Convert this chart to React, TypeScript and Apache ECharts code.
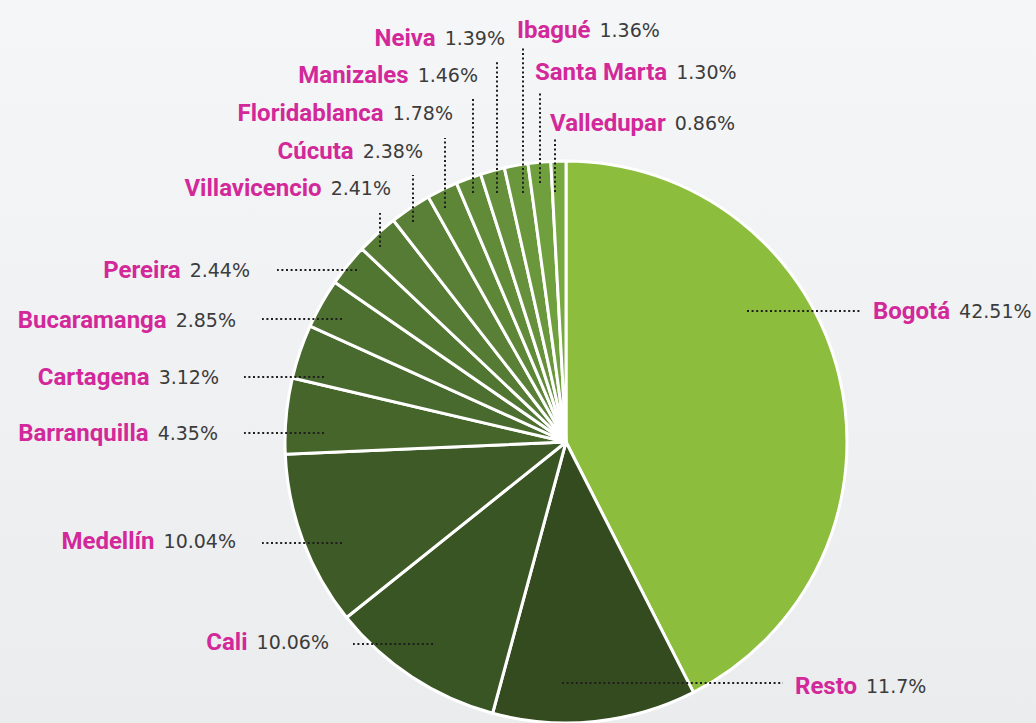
import React, { useEffect, useRef } from "react";
import * as echarts from "echarts";

const cities = [
  "Bogotá", "Resto", "Cali", "Medellín", "Barranquilla", "Cartagena",
  "Bucaramanga", "Pereira", "Villavicencio", "Cúcuta", "Floridablanca",
  "Manizales", "Neiva", "Ibagué", "Santa Marta", "Valledupar",
];
const shares = [42.51, 11.7, 10.06, 10.04, 4.35, 3.12, 2.85, 2.44, 2.41, 2.38, 1.78, 1.46, 1.39, 1.36, 1.3, 0.86];
const shareLabels = ["42.51%", "11.7%", "10.06%", "10.04%", "4.35%", "3.12%", "2.85%", "2.44%", "2.41%", "2.38%", "1.78%", "1.46%", "1.39%", "1.36%", "1.30%", "0.86%"];

const sliceColors = [
  "#8dbd3d", "#344b1f", "#3a5524", "#3e5a27", "#45652b", "#496a2e",
  "#4d7030", "#517632", "#557b34", "#598036", "#5d8637", "#618b39",
  "#66903b", "#6a963c", "#70a03e", "#77a940",
];

// label anchor and leader line points
type Lay = { x: number; y: number; align: string; pts: number[][] };
const labelLayouts: Lay[] = [
  { x: 873, y: 311, align: "left", pts: [[747, 311], [800, 311], [862, 311]] },
  { x: 795, y: 686, align: "left", pts: [[562, 683], [700, 683], [783, 683]] },
  { x: 329, y: 642, align: "right", pts: [[433, 644], [400, 644], [353, 644]] },
  { x: 236, y: 541, align: "right", pts: [[342, 543], [300, 543], [262, 543]] },
  { x: 218, y: 433, align: "right", pts: [[324, 433], [280, 433], [244, 433]] },
  { x: 219, y: 377, align: "right", pts: [[324, 377], [280, 377], [244, 377]] },
  { x: 236, y: 320, align: "right", pts: [[342, 319], [300, 319], [262, 319]] },
  { x: 250, y: 270, align: "right", pts: [[357, 270], [310, 270], [277, 270]] },
  { x: 391, y: 188, align: "right", pts: [[380, 247], [380, 230], [380, 213]] },
  { x: 423, y: 151, align: "right", pts: [[413, 222], [413, 200], [413, 175]] },
  { x: 453, y: 113, align: "right", pts: [[445, 208], [445, 170], [445, 138]] },
  { x: 478, y: 75, align: "right", pts: [[473, 193], [473, 150], [473, 99]] },
  { x: 505, y: 38, align: "right", pts: [[497, 193], [497, 120], [497, 61]] },
  { x: 517, y: 30, align: "left", pts: [[523, 193], [523, 120], [523, 46]] },
  { x: 535, y: 72, align: "left", pts: [[540, 183], [540, 140], [540, 91]] },
  { x: 550, y: 123, align: "left", pts: [[555, 192], [555, 165], [555, 138]] },
];

const pieCenter = [566, 442];
const pieRadius = 281;

export default function App() {
  const ref = useRef<HTMLDivElement>(null);
  useEffect(() => {
    if (!ref.current) return;
    const chart = echarts.init(ref.current, null, { renderer: "svg" });
    const data = cities.map((c, i) => ({
      name: c,
      value: shares[i],
      itemStyle: { color: sliceColors[i] },
    }));
    chart.setOption({
      animation: false,
      backgroundColor: {
        type: "linear", x: 0, y: 0, x2: 0, y2: 1,
        colorStops: [
          { offset: 0, color: "#f5f6f7" },
          { offset: 1, color: "#ebeced" },
        ],
      },
      series: [
        {
          type: "pie",
          z: 2,
          center: pieCenter,
          radius: pieRadius,
          startAngle: 90,
          clockwise: true,
          silent: true,
          itemStyle: { borderColor: "#ffffff", borderWidth: 3 },
          emphasis: { disabled: true },
          label: { show: false },
          labelLine: { show: false },
          data,
        },
        {
          // label layer drawn above the slices
          type: "pie",
          z: 5,
          center: pieCenter,
          radius: pieRadius,
          startAngle: 90,
          clockwise: true,
          silent: true,
          avoidLabelOverlap: false,
          minShowLabelAngle: 0,
          itemStyle: { color: "rgba(0,0,0,0)", borderWidth: 0 },
          emphasis: { disabled: true },
          label: {
            show: true,
            position: "outside",
            formatter: (p: any) => `{n|${p.name}}{p|${shareLabels[p.dataIndex]}}`,
            rich: {
              n: {
                fontFamily: "Roboto",
                fontWeight: "bold",
                fontSize: 24,
                color: "#d2289a",
              },
              p: {
                fontFamily: "DejaVu Sans",
                fontSize: 19,
                color: "#3c3c3c",
                padding: [0, 0, 0, 9],
              },
            },
          },
          labelLine: {
            show: true,
            length: 10,
            length2: 10,
            lineStyle: { color: "#1e1e1e", width: 2, type: [2, 2.6] },
          },
          labelLayout: (params: any) => {
            const l = labelLayouts[params.dataIndex];
            return {
              x: l.x,
              y: l.y,
              align: l.align,
              verticalAlign: "middle",
              labelLinePoints: l.pts,
            };
          },
          data: cities.map((c, i) => ({
            name: c,
            value: shares[i],
            itemStyle: { color: "rgba(0,0,0,0)" },
          })),
        },
      ],
    });
    return () => chart.dispose();
  }, []);
  return (
    <div
      ref={ref}
      style={{ position: "absolute", left: 0, top: 0, width: 1036, height: 723 }}
    />
  );
}
